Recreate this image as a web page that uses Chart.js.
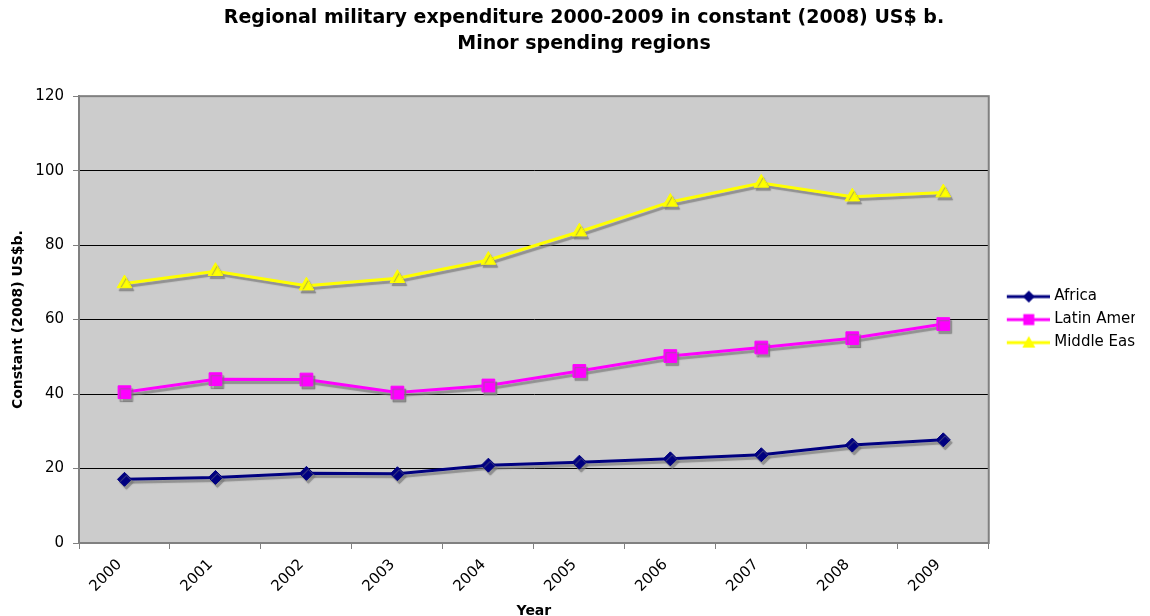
<!DOCTYPE html>
<html>
<head>
<meta charset="utf-8">
<script src="https://cdn.jsdelivr.net/npm/chart.js@4"></script>
<style>
  html, body { margin: 0; padding: 0; background: #fff; overflow: hidden; }
  #wrap { position: absolute; left: 0; top: 0; width: 1135px; height: 616px; overflow: hidden; }
  #militaryChart { display: block; }
</style>
</head>
<body>
<div id="wrap"><canvas id="militaryChart" width="1168" height="630"></canvas></div>
<script>
// data
const years = ['2000', '2001', '2002', '2003', '2004', '2005', '2006', '2007', '2008', '2009'];
const africa = [17.1, 17.6, 18.7, 18.6, 20.9, 21.7, 22.6, 23.7, 26.3, 27.7];
const latinAmerica = [40.5, 44.0, 43.9, 40.4, 42.3, 46.2, 50.2, 52.5, 55.0, 58.8];
const middleEast = [69.7, 73.0, 69.1, 71.1, 76.0, 83.6, 91.6, 96.7, 93.0, 94.1];
const seriesNames = ['Africa', 'Latin America', 'Middle East'];
const yTicks = [0, 20, 40, 60, 80, 100, 120];

const colors = {
    africa: '#000080',
    latin: '#ff00ff',
    middle: '#ffff00'
};

Chart.defaults.font.family = '"DejaVu Sans", Verdana, sans-serif';
Chart.defaults.color = '#000';

// small legend icon: line with the marker in the middle
function legendIcon(color, shape) {
    const c = document.createElement('canvas');
    c.width = 56;
    c.height = 16;
    const g = c.getContext('2d');
    g.strokeStyle = color;
    g.lineWidth = 3;
    g.beginPath();
    g.moveTo(13, 8);
    g.lineTo(56, 8);
    g.stroke();
    g.fillStyle = color;
    g.beginPath();
    if (shape === 'diamond') {
        g.moveTo(35, 2); g.lineTo(41, 8); g.lineTo(35, 14); g.lineTo(29, 8);
    } else if (shape === 'square') {
        g.rect(29.5, 2.5, 11, 11);
    } else {
        g.moveTo(35, 1.5); g.lineTo(41.5, 13); g.lineTo(28.5, 13);
    }
    g.closePath();
    g.fill();
    return c;
}

const legendIcons = [
    legendIcon(colors.africa, 'diamond'),
    legendIcon(colors.latin, 'square'),
    legendIcon(colors.middle, 'triangle')
];

// grey plot area, grey frame and the drop shadow under the lines
const plotDecor = {
    id: 'plotDecor',
    beforeDraw(chart) {
        const { ctx, chartArea: a } = chart;
        ctx.save();
        ctx.fillStyle = '#cccccc';
        ctx.fillRect(a.left, a.top, a.right - a.left, a.bottom - a.top);
        ctx.restore();
    },
    beforeDatasetsDraw(chart) {
        const { ctx, chartArea: a } = chart;
        ctx.save();
        ctx.strokeStyle = '#808080';
        ctx.lineWidth = 2;
        ctx.strokeRect(a.left, a.top, a.right - a.left, a.bottom - a.top);
        ctx.restore();
        ctx.save();
        ctx.shadowColor = 'rgba(120, 120, 120, 0.7)';
        ctx.shadowOffsetX = 2;
        ctx.shadowOffsetY = 3;
        ctx.shadowBlur = 1;
    },
    afterDatasetsDraw(chart) {
        chart.ctx.restore();
    }
};

const ctx = document.getElementById('militaryChart').getContext('2d');

new Chart(ctx, {
    type: 'line',
    data: {
        labels: years,
        datasets: [{
            label: seriesNames[0],
            data: africa,
            borderColor: colors.africa,
            backgroundColor: colors.africa,
            pointStyle: 'rectRot',
            pointRadius: 7
        }, {
            label: seriesNames[1],
            data: latinAmerica,
            borderColor: colors.latin,
            backgroundColor: colors.latin,
            pointStyle: 'rect',
            pointRadius: 9
        }, {
            label: seriesNames[2],
            data: middleEast,
            borderColor: colors.middle,
            backgroundColor: colors.middle,
            pointStyle: 'triangle',
            pointRadius: 8.5
        }]
    },
    options: {
        responsive: false,
        animation: false,
        layout: { padding: 0 },
        elements: {
            line: { borderWidth: 3, tension: 0, fill: false },
            point: { borderWidth: 1, hoverRadius: 8 }
        },
        plugins: {
            title: {
                display: true,
                text: [
                    'Regional military expenditure 2000-2009 in constant (2008) US$ b.',
                    'Minor spending regions'
                ],
                color: '#000',
                font: { size: 19, weight: 'bold', lineHeight: 1.32 },
                padding: { top: 6, bottom: 40 }
            },
            legend: {
                position: 'right',
                fullSize: false,
                labels: {
                    usePointStyle: true,
                    pointStyleWidth: 50,
                    padding: 8,
                    color: '#000',
                    font: { size: 15 },
                    generateLabels: (chart) => chart.data.datasets.map((ds, i) => ({
                        text: ds.label,
                        pointStyle: legendIcons[i],
                        fillStyle: ds.borderColor,
                        strokeStyle: ds.borderColor,
                        lineWidth: 0,
                        hidden: false,
                        datasetIndex: i
                    }))
                }
            },
            tooltip: { enabled: false }
        },
        scales: {
            x: {
                offset: true,
                afterFit: (scale) => { scale.height = 87; },
                grid: {
                    offset: true,
                    drawOnChartArea: false,
                    drawTicks: true,
                    tickLength: 6,
                    color: '#808080'
                },
                border: { color: '#808080', width: 2 },
                ticks: {
                    autoSkip: false,
                    minRotation: 45,
                    maxRotation: 45,
                    padding: 7,
                    labelOffset: -5,
                    color: '#000',
                    font: { size: 15 }
                },
                title: {
                    display: true,
                    text: 'Year',
                    color: '#000',
                    font: { size: 14, weight: 'bold' },
                    padding: { top: 0, bottom: 10 }
                }
            },
            y: {
                min: yTicks[0],
                max: yTicks[yTicks.length - 1],
                afterFit: (scale) => { scale.width = 79; },
                afterBuildTicks: (scale) => {
                    scale.ticks = yTicks.map(v => ({ value: v }));
                },
                grid: {
                    color: '#000',
                    lineWidth: 1,
                    tickLength: 6,
                    tickColor: '#808080'
                },
                border: { color: '#808080', width: 2 },
                ticks: {
                    padding: 9,
                    color: '#000',
                    font: { size: 15 }
                },
                title: {
                    display: true,
                    text: 'Constant (2008) US$b.',
                    color: '#000',
                    font: { size: 14, weight: 'bold' },
                    padding: { top: 10, bottom: 0 }
                }
            }
        }
    },
    plugins: [plotDecor]
});
</script>
</body>
</html>
